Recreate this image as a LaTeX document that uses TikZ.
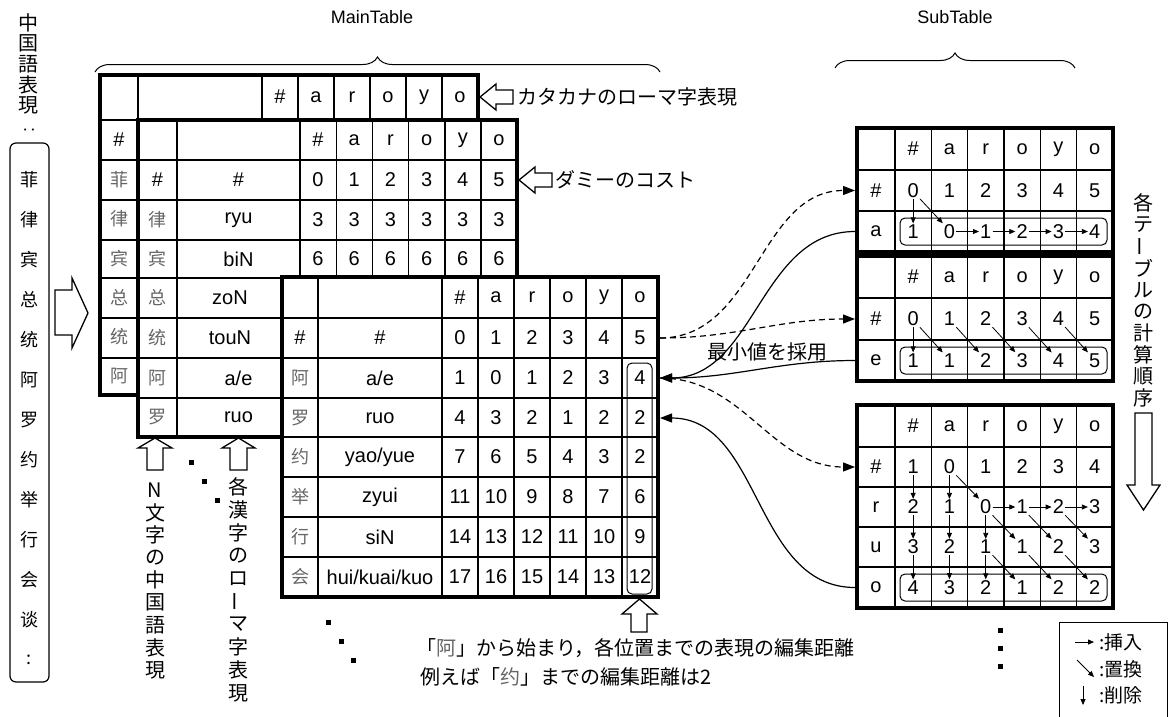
\documentclass[tikz,border=0pt]{standalone}
\usepackage{fontspec}
\usepackage{graphicx}
\setmainfont{Liberation Sans}
\newfontfamily\jpf{Noto Sans CJK JP}
\newfontfamily\cnf{Noto Sans CJK SC}
\usetikzlibrary{arrows.meta,decorations.pathreplacing}

\newcommand\drawtab[6]{%
  \fill[white] (#1,#3) rectangle (#2,#4);
  \foreach \xx in {#5} {\draw[inl] (\xx,#3) -- (\xx,#4);}
  \foreach \yy in {#6} {\draw[inl] (#1,\yy) -- (#2,\yy);}
  \draw[outl] (#1,#3) rectangle (#2,#4);}
\newcommand\numrow[6]{%
  \foreach \v [count=\k from 0] in {#6} {\node[#5] (#1-\k) at ({#2+#3*\k},#4) {\v};}}
\newcommand\vtext[6]{%
  \foreach \ch [count=\k from 0] in {#6} {\node[#5] (#1-\k) at (#2,{#3+#4*\k}) {\ch};}}

\begin{document}
\begin{tikzpicture}[x=1pt,y=-1pt,
  inl/.style={line width=1.4pt},
  outl/.style={line width=3.8pt},
  cell/.style={inner sep=1pt,font=\fontsize{20}{20}\selectfont},
  hz/.style={inner sep=0pt,text=black!60,font=\cnf\fontsize{18}{18}\selectfont},
  jp/.style={inner sep=0pt,font=\jpf\fontsize{20}{20}\selectfont},
  jps/.style={inner sep=0pt,font=\jpf\fontsize{19}{19}\selectfont},
  cn/.style={inner sep=0pt,font=\cnf\fontsize{18}{18}\selectfont},
  lbl/.style={inner sep=0pt,font=\fontsize{18}{18}\selectfont},
  blk/.style={draw,fill=white,line width=1.3pt,line join=miter},
  sarr/.style={line width=0.8pt,-{Triangle[length=6pt,width=5pt]}},
  conn/.style={line width=1.2pt,-{Triangle[length=12pt,width=9pt]}},
  dconn/.style={conn,dash pattern=on 6pt off 4pt},
  rbox/.style={draw,line width=1pt,rounded corners=5pt},
  sq/.style={fill=black}]
\fill[white] (0,0) rectangle (1170,716);
\useasboundingbox (0,0) rectangle (1170,716);

% titles and braces
\node[lbl] (mt) at (372,17) {MainTable};
\node[lbl] (st) at (955,17) {SubTable};
\draw[line width=1pt,decorate,decoration={brace,amplitude=15pt}] (95,72) -- (660,72);
\draw[line width=1pt,decorate,decoration={brace,amplitude=15pt}] (835,68) -- (1075,68);

% left vertical title and list
\vtext{vt}{29}{23}{20.5}{jp}{中,国,語,表,現}
\node[inner sep=0pt,font=\fontsize{18}{18}\selectfont] (vtc) at (29,130) {\rotatebox{90}{:}};
\draw[line width=1.2pt,rounded corners=6pt] (10,143) rectangle (49,682);
\vtext{lst}{29.5}{180}{40}{cn}{菲,律,宾,总,统,阿,罗,约,举,行,会,谈,:}
\draw[blk] (55,290) -- (72,290) -- (72,278) -- (88,313) -- (72,348) -- (72,335) -- (55,335) -- cycle;

% ---------- Table 1 ----------
\drawtab{100}{478}{75}{395}{138,262,298,334,370,406,442}{120,160,200,240,278,318,358}
\numrow{t1h}{280}{36}{97}{cell}{\#,a,r,o,y,o}
\node[cell] (t1c) at (119,140) {\#};
\vtext{t1k}{119}{179.4}{39.4}{hz}{菲,律,宾,总,统,阿}

% ---------- Table 2 ----------
\drawtab{138}{517}{120}{437}{177,300,336.2,372.4,408.6,444.8,481}{160,200,240,278,318,358,398}
\numrow{t2h}{318}{36.2}{140}{cell}{\#,a,r,o,y,o}
\node[cell] (t2a0) at (157.5,180) {\#}; \node[cell] (t2b0) at (238.5,180) {\#};
\numrow{t2r0}{318}{36.2}{180}{cell}{0,1,2,3,4,5}
\node[hz] (t2a1) at (157.5,220) {律}; \node[cell] (t2b1) at (238.5,220) {ryu};
\numrow{t2r1}{318}{36.2}{220}{cell}{3,3,3,3,3,3}
\node[hz] (t2a2) at (157.5,259) {宾}; \node[cell] (t2b2) at (238.5,259) {biN};
\numrow{t2r2}{318}{36.2}{259}{cell}{6,6,6,6,6,6}
\node[hz] (t2a3) at (157.5,298) {总}; \node[cell] (t2b3) at (230,298) {zoN};
\node[hz] (t2a4) at (157.5,338) {统}; \node[cell] (t2b4) at (230,338) {touN};
\node[hz] (t2a5) at (157.5,378) {阿}; \node[cell] (t2b5) at (238.5,378) {a/e};
\node[hz] (t2a6) at (157.5,417) {罗}; \node[cell] (t2b6) at (238.5,417) {ruo};

% ---------- Table 3 ----------
\drawtab{282}{658}{277}{597}{318,442,478,514,550,586,622}{318,358,398,437,477,517,557}
\numrow{t3h}{460}{36}{297.5}{cell}{\#,a,r,o,y,o}
\node[cell] (t3a0) at (300,338) {\#}; \node[cell] (t3b0) at (380,338) {\#};
\numrow{t3r0}{460}{36}{338}{cell}{0,1,2,3,4,5}
\node[hz] (t3a1) at (300,378) {阿}; \node[cell] (t3b1) at (380,378) {a/e};
\numrow{t3r1}{460}{36}{378}{cell}{1,0,1,2,3,4}
\node[hz] (t3a2) at (300,418) {罗}; \node[cell] (t3b2) at (380,418) {ruo};
\numrow{t3r2}{460}{36}{418}{cell}{4,3,2,1,2,2}
\node[hz] (t3a3) at (300,457) {约}; \node[cell] (t3b3) at (380,457) {yao/yue};
\numrow{t3r3}{460}{36}{457}{cell}{7,6,5,4,3,2}
\node[hz] (t3a4) at (300,497) {举}; \node[cell] (t3b4) at (380,497) {zyui};
\numrow{t3r4}{460}{36}{497}{cell}{11,10,9,8,7,6}
\node[hz] (t3a5) at (300,537) {行}; \node[cell] (t3b5) at (380,537) {siN};
\numrow{t3r5}{460}{36}{537}{cell}{14,13,12,11,10,9}
\node[hz] (t3a6) at (300,577) {会}; \node[cell] (t3b6) at (380,577) {hui/kuai/kuo};
\numrow{t3r6}{460}{36}{577}{cell}{17,16,15,14,13,12}
\draw[rbox] (627,363) rectangle (652,594);

% block arrows and labels around main tables
\draw[blk] (480,97) -- (496,84) -- (496,90) -- (513,90) -- (513,104) -- (496,104) -- (496,110) -- cycle;
\node[jp,anchor=west] (k1) at (517,97) {カタカナのローマ字表現};
\draw[blk] (519,180) -- (535,167) -- (535,173) -- (552,173) -- (552,187) -- (535,187) -- (535,193) -- cycle;
\node[jp,anchor=west] (k2) at (555,180) {ダミーのコスト};
\draw[blk] (155,438) -- (172,448) -- (163,448) -- (163,470) -- (147,470) -- (147,448) -- (138,448) -- cycle;
\draw[blk] (238.5,438) -- (255,448) -- (247,448) -- (247,470) -- (230,470) -- (230,448) -- (222,448) -- cycle;
\draw[blk] (639.5,599) -- (657,614) -- (647,614) -- (647,632) -- (631,632) -- (631,614) -- (622,614) -- cycle;
\vtext{vn}{155}{490}{22.5}{jp}{N,文,字,の,中,国,語,表,現}
\vtext{vr}{238.5}{487}{22.9}{jp}{各,漢,字,の,ロ,{\rotatebox{90}{ー}},マ,字,表,現}
\foreach \px/\py in {191/462,204/481,217/500,328/622,341/641,353/660,1000/630,1000/648,1000/666}
  {\fill[sq] ({\px-2.5},{\py-2.5}) rectangle ({\px+2.5},{\py+2.5});}
\node[jp,anchor=west] (b1) at (416,648) {「{\cnf\color{black!60}阿}」から始まり，各位置までの表現の編集距離};
\node[jp,anchor=west] (b2) at (420,677) {例えば「{\cnf\color{black!60}约}」までの編集距離は2};

% ---------- Sub tables ----------
\drawtab{857}{1113}{128}{252}{895,931.3,967.6,1003.9,1040.2,1076.5}{170,211}
\numrow{s1h}{913.15}{36.3}{149}{cell}{\#,a,r,o,y,o}
\node[cell] (s1l0) at (876,190.5) {\#}; \node[cell] (s1l1) at (876,231.5) {a};
\numrow{s1-0}{913.15}{36.3}{190.5}{cell}{0,1,2,3,4,5}
\numrow{s1-1}{913.15}{36.3}{231.5}{cell}{1,0,1,2,3,4}
\draw[rbox] (900,218) rectangle (1107,245);
\draw[sarr] (s1-0-0) -- (s1-1-0);
\draw[sarr] (s1-0-0.south east) -- (s1-1-1.north west);
\foreach \a/\b in {1/2,2/3,3/4,4/5} {\draw[sarr] (s1-1-\a) -- (s1-1-\b);}

\drawtab{857}{1113}{256}{381}{895,931.3,967.6,1003.9,1040.2,1076.5}{298,340}
\numrow{s2h}{913.15}{36.3}{277}{cell}{\#,a,r,o,y,o}
\node[cell] (s2l0) at (876,319) {\#}; \node[cell] (s2l1) at (876,360.5) {e};
\numrow{s2-0}{913.15}{36.3}{319}{cell}{0,1,2,3,4,5}
\numrow{s2-1}{913.15}{36.3}{360.5}{cell}{1,1,2,3,4,5}
\draw[rbox] (900,347) rectangle (1107,374);
\draw[sarr] (s2-0-0) -- (s2-1-0);
\foreach \a/\b in {0/1,1/2,2/3,3/4,4/5} {\draw[sarr] (s2-0-\a.south east) -- (s2-1-\b.north west);}

\drawtab{857}{1113}{405}{608}{895,931.3,967.6,1003.9,1040.2,1076.5}{447,487,527,567}
\numrow{s3h}{913.15}{36.3}{426}{cell}{\#,a,r,o,y,o}
\node[cell] (s3l0) at (876,467) {\#}; \node[cell] (s3l1) at (876,507) {r};
\node[cell] (s3l2) at (876,547) {u}; \node[cell] (s3l3) at (876,587.5) {o};
\numrow{s3-0}{913.15}{36.3}{467}{cell}{1,0,1,2,3,4}
\numrow{s3-1}{913.15}{36.3}{507}{cell}{2,1,0,1,2,3}
\numrow{s3-2}{913.15}{36.3}{547}{cell}{3,2,1,1,2,3}
\numrow{s3-3}{913.15}{36.3}{587.5}{cell}{4,3,2,1,2,2}
\draw[rbox] (900,574) rectangle (1107,601);
\foreach \c/\r/\s in {0/0/1,0/1/2,0/2/3,1/0/1,1/1/2,1/2/3,2/1/2,2/2/3}
  {\draw[sarr] (s3-\r-\c) -- (s3-\s-\c);}
\foreach \r/\c/\s/\d in {0/1/1/2,1/2/2/3,1/3/2/4,1/4/2/5,2/2/3/3,2/3/3/4,2/4/3/5}
  {\draw[sarr] (s3-\r-\c.south east) -- (s3-\s-\d.north west);}
\foreach \a/\b in {2/3,3/4,4/5} {\draw[sarr] (s3-1-\a) -- (s3-1-\b);}

% order label and arrow
\vtext{ord}{1143}{203}{21.7}{jp}{各,テ,{\rotatebox{90}{ー}},ブ,ル,の,計,算,順,序}
\draw[blk] (1135,413) -- (1152,413) -- (1152,485) -- (1160,485) -- (1143.5,510) -- (1127,485) -- (1135,485) -- cycle;

% connectors
\coordinate (t3e0) at (660,338); \coordinate (t3e1) at (660,378); \coordinate (t3e2) at (660,418);
\coordinate (s1w0) at (855,190.5); \coordinate (s1w1) at (855,231.5);
\coordinate (s2w0) at (855,319); \coordinate (s2w1) at (855,360.5);
\coordinate (s3w0) at (855,467); \coordinate (s3w3) at (855,587.5);
\draw[dconn] (t3e0) to[out=0,in=180] (s1w0);
\draw[dconn] (t3e0) to[out=0,in=180] (s2w0);
\draw[dconn] (t3e1) to[out=0,in=180] (s3w0);
\draw[conn] (s1w1) to[out=180,in=0] (t3e1);
\draw[conn] (s2w1) to[out=180,in=0] (t3e1);
\draw[conn] (s3w3) to[out=180,in=0] (t3e2);
\node[jp] (minv) at (767,352) {最小値を採用};

% legend
\draw[line width=1pt] (1059,720) -- (1059,622) -- (1167,622) -- (1167,720);
\coordinate (l1a) at (1075,642); \coordinate (l1b) at (1094,642);
\coordinate (l2a) at (1077,660); \coordinate (l2b) at (1094,677);
\coordinate (l3a) at (1083,686); \coordinate (l3b) at (1083,705);
\draw[sarr] (l1a) -- (l1b); \draw[sarr] (l2a) -- (l2b); \draw[sarr] (l3a) -- (l3b);
\node[jps,anchor=west] (lg1) at (1099,642) {:挿入};
\node[jps,anchor=west] (lg2) at (1099,669) {:置換};
\node[jps,anchor=west] (lg3) at (1099,695) {:削除};
\end{tikzpicture}
\end{document}
